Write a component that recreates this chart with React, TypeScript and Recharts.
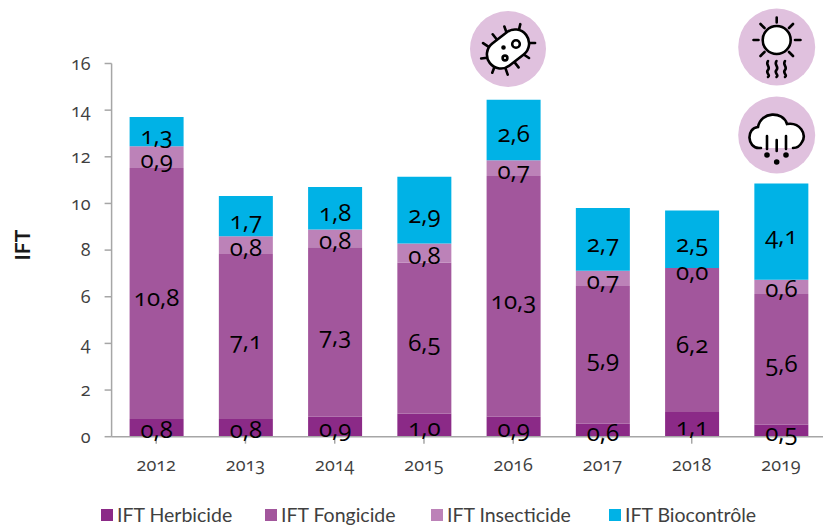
import { BarChart, Bar, XAxis, YAxis, LabelList, Legend } from 'recharts';

const years = ['2012', '2013', '2014', '2015', '2016', '2017', '2018', '2019'];
const herbicide = [0.76, 0.76, 0.86, 1.0, 0.86, 0.56, 1.06, 0.51];
const fongicide = [10.76, 7.07, 7.26, 6.46, 10.32, 5.9, 6.17, 5.61];
const insecticide = [0.93, 0.76, 0.76, 0.82, 0.67, 0.66, 0.0, 0.61];
const biocontrole = [1.26, 1.73, 1.82, 2.86, 2.6, 2.68, 2.47, 4.13];
const yTicks = [0, 2, 4, 6, 8, 10, 12, 14, 16];

const data = years.map((year, i) => ({
  year,
  herbicide: herbicide[i],
  fongicide: fongicide[i],
  insecticide: insecticide[i],
  biocontrole: biocontrole[i],
}));

const FONT = 'Lato, sans-serif';
const NUM_FONT = '"Open Sans", sans-serif';
const numerals = { fontFeatureSettings: '"onum" 1', fontVariantNumeric: 'oldstyle-nums' };

const series = [
  { key: 'herbicide', name: 'IFT Herbicide', color: '#8B2A87', dy: 1 },
  { key: 'fongicide', name: 'IFT Fongicide', color: '#A2569C', dy: 3 },
  { key: 'insecticide', name: 'IFT Insecticide', color: '#BC82B8', dy: 1 },
  { key: 'biocontrole', name: 'IFT Biocontrôle', color: '#00B2E6', dy: 3 },
];

const legendLeft = [101, 265, 431, 609];

const formatValue = (v: number) => v.toFixed(1).replace('.', ',');

const ValueText = ({ x, y, value }: { x: number; y: number; value: number }) => (
  <text
    x={x}
    y={y}
    textAnchor="middle"
    dominantBaseline="central"
    fill="#000"
    fontSize={24}
    fontFamily={NUM_FONT}
    style={numerals}
  >
    {formatValue(value)}
  </text>
);

const SegmentLabel = (dy: number, isTop: boolean) => (props: any) => {
  const { x, y, width, height, value, index } = props;
  if (!value) return null;
  return (
    <>
      <ValueText x={x + width / 2} y={y + height / 2 + dy} value={value} />
      {/* a zero segment has no rect of its own, so the top series writes it on its lower edge */}
      {isTop && insecticide[index] === 0 ? (
        <ValueText x={x + width / 2} y={y + height + 2} value={0} />
      ) : null}
    </>
  );
};

const ChartLegend = () => (
  <div style={{ position: 'relative', height: 24, fontFamily: FONT, fontSize: 19.5, color: '#404040' }}>
    {series.map((s, i) => (
      <div key={s.key} style={{ position: 'absolute', left: legendLeft[i], top: 0, display: 'flex', alignItems: 'center', whiteSpace: 'nowrap' }}>
        <span style={{ width: 12, height: 12, background: s.color, marginRight: 4 }} />
        <span>{s.name}</span>
      </div>
    ))}
  </div>
);

const badge = '#E0C1DE';

const Icons = () => (
  <svg width={823} height={190} style={{ position: 'absolute', left: 0, top: 0, pointerEvents: 'none' }}>
    <circle cx={508} cy={49} r={38} fill={badge} />
    <g stroke="#000" strokeWidth={2.6} fill="none" strokeLinecap="round">
      <g transform="translate(508 49) rotate(-38)">
        <path d="M-14 -14l-2 -6M-3 -14v-7M9 -14l2 -6M20 -8l5 -4M-14 14l-2 6M-3 14v7M9 14l2 6M20 8l5 4M-22 -6l-5 -3M-22 6l-5 3" />
        <rect x={-23} y={-14} width={46} height={28} rx={14} fill="#fff" />
      </g>
      <circle cx={516} cy={44} r={3.8} />
      <circle cx={505} cy={58} r={2.4} />
      <circle cx={503.5} cy={47.5} r={1} fill="#000" />
    </g>
    <circle cx={776.7} cy={47} r={38.5} fill={badge} />
    <g stroke="#000" strokeWidth={2.6} fill="none" strokeLinecap="round">
      <circle cx={776.7} cy={40} r={14} fill="#fff" />
      <path d="M776.7 17.5v5M753.5 40h5M795 40h5.5M760.5 24l4 4M793 24l-4 4M760.5 56l4 -4M793 56l-4 -4" />
      <path d="M768 61c-3 4 3 6 0 9s3 5 0 7M776.5 61c-3 4 3 6 0 9s3 5 0 7M785 61c-3 4 3 6 0 9s3 5 0 7" />
    </g>
    <circle cx={776.7} cy={135} r={38.5} fill={badge} />
    <g stroke="#000" strokeWidth={2.6} fill="none" strokeLinecap="round">
      <path d="M761 148h-2c-12 0 -13 -20 -1 -21c3 -16 25 -16 29 -3c13 -2 20 10 15 18c-2 4 -5 6 -9 6" fill="#fff" />
      <path d="M767 136v13M776.7 140v11M786 136v13" />
      <circle cx={767} cy={155} r={1.5} fill="#000" />
      <circle cx={776.7} cy={162} r={1.5} fill="#000" />
      <circle cx={786} cy={155} r={1.5} fill="#000" />
    </g>
  </svg>
);

export default function App() {
  return (
    <div style={{ position: 'fixed', left: 0, top: 0, width: 823, height: 525, overflow: 'hidden', background: '#fff' }}>
      <BarChart
        width={830}
        height={525}
        data={data}
        margin={{ top: 63.5, right: 4.4, bottom: 0, left: 0 }}
      >
        <XAxis
          dataKey="year"
          height={64.3}
          interval={0}
          stroke="#A6A6A6"
          strokeWidth={1.5}
          tickSize={7}
          tickMargin={15}
          tick={{ fill: '#404040', fontSize: 18, fontFamily: NUM_FONT, style: numerals }}
        />
        <YAxis
          width={111.6}
          domain={[0, 16]}
          ticks={yTicks}
          interval={0}
          stroke="#A6A6A6"
          strokeWidth={1.5}
          tickSize={7}
          tickMargin={14}
          tick={{ fill: '#404040', fontSize: 18, fontFamily: NUM_FONT, style: numerals }}
          label={{
            value: 'IFT',
            angle: -90,
            position: 'insideLeft',
            offset: 23,
            dy: -5,
            style: { fill: '#1a1a1a', fontSize: 21, fontWeight: 700, fontFamily: FONT, textAnchor: 'middle' },
          }}
        />
        <Legend
          verticalAlign="bottom"
          content={<ChartLegend />}
          wrapperStyle={{ left: 0, bottom: -2, width: 823, height: 24 }}
        />
        {series.map((s) => (
          <Bar key={s.key} dataKey={s.key} name={s.name} stackId="ift" fill={s.color} barSize={54} isAnimationActive={false}>
            <LabelList dataKey={s.key} content={SegmentLabel(s.dy, s.key === 'biocontrole')} />
          </Bar>
        ))}
      </BarChart>
      <Icons />
    </div>
  );
}
